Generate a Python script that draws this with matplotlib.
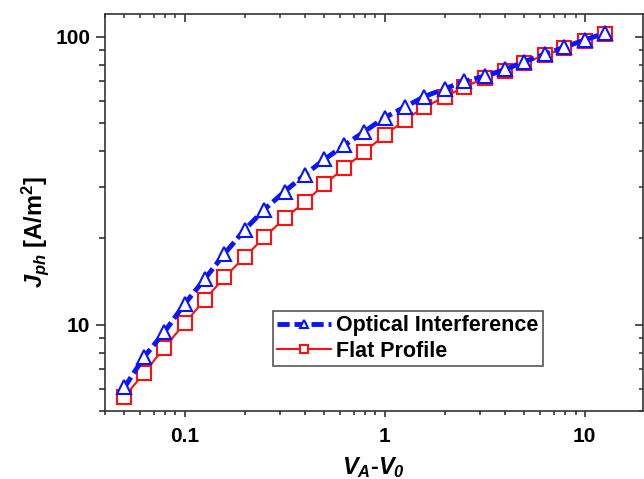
import matplotlib
matplotlib.use('Agg')
import matplotlib.pyplot as plt
from matplotlib.ticker import LogLocator, NullFormatter, FixedLocator, FixedFormatter

plt.rcParams['font.family'] = ['Liberation Sans', 'DejaVu Sans']
plt.rcParams['font.weight'] = 'bold'
plt.rcParams['mathtext.fontset'] = 'custom'
plt.rcParams['mathtext.it'] = 'Liberation Sans:italic:bold'
plt.rcParams['mathtext.rm'] = 'Liberation Sans:bold'
plt.rcParams['mathtext.bf'] = 'Liberation Sans:bold'
plt.rcParams['mathtext.sf'] = 'Liberation Sans:italic:bold'  # para el 0 en cursiva

# Datos
v = [0.05, 0.063, 0.079, 0.1, 0.126, 0.158, 0.2, 0.25, 0.316, 0.4, 0.5, 0.63, 0.79,
     1.0, 1.26, 1.58, 2.0, 2.5, 3.16, 4.0, 5.0, 6.3, 7.9, 10.0, 12.6]
j_optical = [6.05, 7.75, 9.4, 11.8, 14.4, 17.6, 21.4, 25.1, 29.0, 33.2, 37.5, 42.0, 46.8,
             52.4, 57.0, 62.0, 66.0, 70.0, 73.0, 77.0, 82.0, 87.0, 92.0, 97.5, 103.0]
j_flat = [5.62, 6.81, 8.3, 10.1, 12.2, 14.6, 17.2, 20.1, 23.4, 26.7, 30.7, 35.1, 39.8,
          45.5, 51.3, 57.0, 61.8, 67.0, 71.7, 76.2, 81.2, 86.3, 91.1, 96.8, 102.0]
xticks = [0.1, 1, 10]
xticklabels = ['0.1', '1', '10']
yticks = [10, 100]
yticklabels = ['10', '100']

fig = plt.figure(figsize=(6.44, 4.79), dpi=100)
ax = fig.add_axes([0.163, 0.1413, 0.835, 0.8295])

ax.plot(v, j_flat, color='#ff1010', lw=1.5, marker='s', ms=9.5, mfc='white',
        mec='#ff1010', mew=1.5, label='Flat Profile', zorder=3)
ax.plot(v, j_optical, color='#0a14ff', lw=3.5, ls=(0, (2.5, 1)), marker='^', ms=9.5,
        mfc='white', mec='#0a14ff', mew=1.5, label='Optical Interference', zorder=4)

ax.set_xscale('log')
ax.set_yscale('log')
ax.set_xlim(0.04, 19.5)
ax.set_ylim(5, 120)

ax.xaxis.set_major_locator(FixedLocator(xticks))
ax.xaxis.set_major_formatter(FixedFormatter(xticklabels))
ax.yaxis.set_major_locator(FixedLocator(yticks))
ax.yaxis.set_major_formatter(FixedFormatter(yticklabels))
ax.xaxis.set_minor_locator(LogLocator(base=10, subs=range(2, 10)))
ax.yaxis.set_minor_locator(LogLocator(base=10, subs=range(2, 10)))
ax.xaxis.set_minor_formatter(NullFormatter())
ax.yaxis.set_minor_formatter(NullFormatter())

sp_col = '#333333'
for s in ax.spines.values():
    s.set_linewidth(1.2)
    s.set_color(sp_col)

ax.tick_params(which='both', direction='out', width=1.2, color=sp_col, labelsize=15)
ax.tick_params(axis='x', which='major', length=4.5, pad=7)
ax.tick_params(axis='x', which='minor', length=3)
ax.tick_params(axis='y', which='major', length=6.5, pad=4)
ax.tick_params(axis='y', which='minor', length=4.3)

# ejes arriba y derecha con ticks hacia dentro
top = ax.secondary_xaxis('top')
top.xaxis.set_major_locator(FixedLocator(xticks))
top.xaxis.set_minor_locator(LogLocator(base=10, subs=range(2, 10)))
top.tick_params(which='major', direction='in', length=5.5, width=1.2, color=sp_col, labeltop=False)
top.tick_params(which='minor', direction='in', length=3, width=1.1, color=sp_col)
top.xaxis.set_major_formatter(NullFormatter())
top.xaxis.set_minor_formatter(NullFormatter())
top.spines['top'].set_visible(False)

right = ax.secondary_yaxis('right')
right.yaxis.set_major_locator(FixedLocator(yticks))
right.yaxis.set_minor_locator(LogLocator(base=10, subs=range(2, 10)))
right.tick_params(which='major', direction='in', length=5.5, width=1.2, color=sp_col, labelright=False)
right.tick_params(which='minor', direction='in', length=3, width=1.1, color=sp_col)
right.yaxis.set_major_formatter(NullFormatter())
right.yaxis.set_minor_formatter(NullFormatter())
right.spines['right'].set_visible(False)

ax.set_xlabel(r'$V_A$-$V_{\mathsf{0}}$', fontsize=17, fontweight='bold')
ax.set_ylabel(r'$J_{ph}$ [A/m$^2$]', fontsize=17, fontweight='bold')
ax.xaxis.set_label_coords(0.5, -0.11)
ax.yaxis.set_label_coords(-0.10, 0.452)

handles, labels = ax.get_legend_handles_labels()
leg = ax.legend(handles[::-1], labels[::-1], loc='upper left', bbox_to_anchor=(0.312, 0.252),
                borderaxespad=0, fontsize=15.5, fancybox=False, edgecolor='#555555',
                markerscale=0.65, handlelength=2.5, handletextpad=0.25,
                borderpad=0.2, labelspacing=0.2, framealpha=1)
leg.get_frame().set_linewidth(1.2)

fig.savefig('out.png', dpi=100)
